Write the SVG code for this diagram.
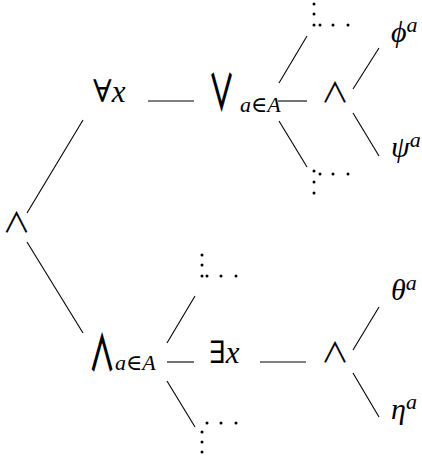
<svg xmlns="http://www.w3.org/2000/svg" width="422" height="461" viewBox="0 0 422 461">
<style>
.m{font-family:"Liberation Serif","DejaVu Serif",serif;fill:#000}
.i{font-style:italic}
.big{font-family:"Noto Sans CJK JP","DejaVu Sans",sans-serif;font-weight:700;fill:#000}
.op{font-family:"Noto Sans CJK JP","DejaVu Sans",sans-serif;fill:#000}
.e line{stroke:#000;stroke-width:1.1}
.d circle{fill:#000}
</style>
<rect width="422" height="461" fill="#fff"/>
<g class="e" id="connectors">
<line x1="27" y1="213" x2="83" y2="120"/>
<line x1="27" y1="242" x2="83" y2="333"/>
<line x1="148" y1="101" x2="194" y2="101"/>
<line x1="278" y1="101" x2="307" y2="101"/>
<line x1="279" y1="83" x2="307" y2="36"/>
<line x1="279" y1="121" x2="307" y2="167"/>
<line x1="353" y1="89" x2="379" y2="48"/>
<line x1="353" y1="113" x2="379" y2="156"/>
<line x1="167" y1="362" x2="194" y2="362"/>
<line x1="167" y1="343" x2="195" y2="296"/>
<line x1="167" y1="381" x2="195" y2="427"/>
<line x1="260" y1="362" x2="306" y2="362"/>
<line x1="353" y1="350" x2="379" y2="307"/>
<line x1="353" y1="373" x2="379" y2="417"/>
</g>
<g id="n-and-root"><text class="op" x="16.5" y="233" font-size="28" text-anchor="middle">∧</text></g>
<g id="n-forall"><text class="m" x="93" y="102" font-size="31">∀<tspan class="i">x</tspan></text></g>
<g id="n-bigor"><text class="big" transform="translate(221.5,111) scale(0.95,1.8)" font-size="28" text-anchor="middle">∨</text><text class="m i" x="240" y="112" font-size="22">a<tspan font-style="normal">∈</tspan>A</text></g>
<g id="n-and1"><text class="op" x="335" y="103" font-size="28" text-anchor="middle">∧</text></g>
<g id="n-phi"><text class="m i" x="391" y="42" font-size="30">ϕ<tspan font-size="22" dy="-10">a</tspan></text></g>
<g id="n-psi"><text class="m i" x="391" y="157" font-size="30">ψ<tspan font-size="22" dy="-10">a</tspan></text></g>
<g id="n-dots1" class="d"><circle cx="314" cy="4" r="1.5"/><circle cx="314" cy="14" r="1.5"/><circle cx="314" cy="25" r="1.5"/><circle cx="320" cy="25" r="1.5"/><circle cx="333" cy="25" r="1.5"/><circle cx="348" cy="25" r="1.5"/></g>
<g id="n-dots2" class="d"><circle cx="314" cy="171" r="1.5"/><circle cx="320" cy="174" r="1.5"/><circle cx="333" cy="174" r="1.5"/><circle cx="348" cy="174" r="1.5"/><circle cx="314" cy="182" r="1.5"/><circle cx="314" cy="193" r="1.5"/></g>
<g id="n-bigand"><text class="big" transform="translate(102,371) scale(0.95,1.8)" font-size="28" text-anchor="middle">∧</text><text class="m i" x="115" y="370" font-size="22">a<tspan font-style="normal">∈</tspan>A</text></g>
<g id="n-dots3" class="d"><circle cx="202" cy="255" r="1.5"/><circle cx="202" cy="265" r="1.5"/><circle cx="202" cy="276" r="1.5"/><circle cx="207" cy="276" r="1.5"/><circle cx="221" cy="276" r="1.5"/><circle cx="236" cy="276" r="1.5"/></g>
<g id="n-dots4" class="d"><circle cx="207" cy="423" r="1.5"/><circle cx="221" cy="423" r="1.5"/><circle cx="236" cy="423" r="1.5"/><circle cx="202" cy="432" r="1.5"/><circle cx="202" cy="442" r="1.5"/><circle cx="202" cy="452" r="1.5"/></g>
<g id="n-exists"><text class="m" x="209" y="363" font-size="31">∃<tspan class="i">x</tspan></text></g>
<g id="n-and2"><text class="op" x="335" y="363" font-size="28" text-anchor="middle">∧</text></g>
<g id="n-theta"><text class="m i" x="391" y="300" font-size="30">θ<tspan font-size="22" dy="-10">a</tspan></text></g>
<g id="n-eta"><text class="m i" x="391" y="419" font-size="30">η<tspan font-size="22" dy="-10">a</tspan></text></g>
</svg>
